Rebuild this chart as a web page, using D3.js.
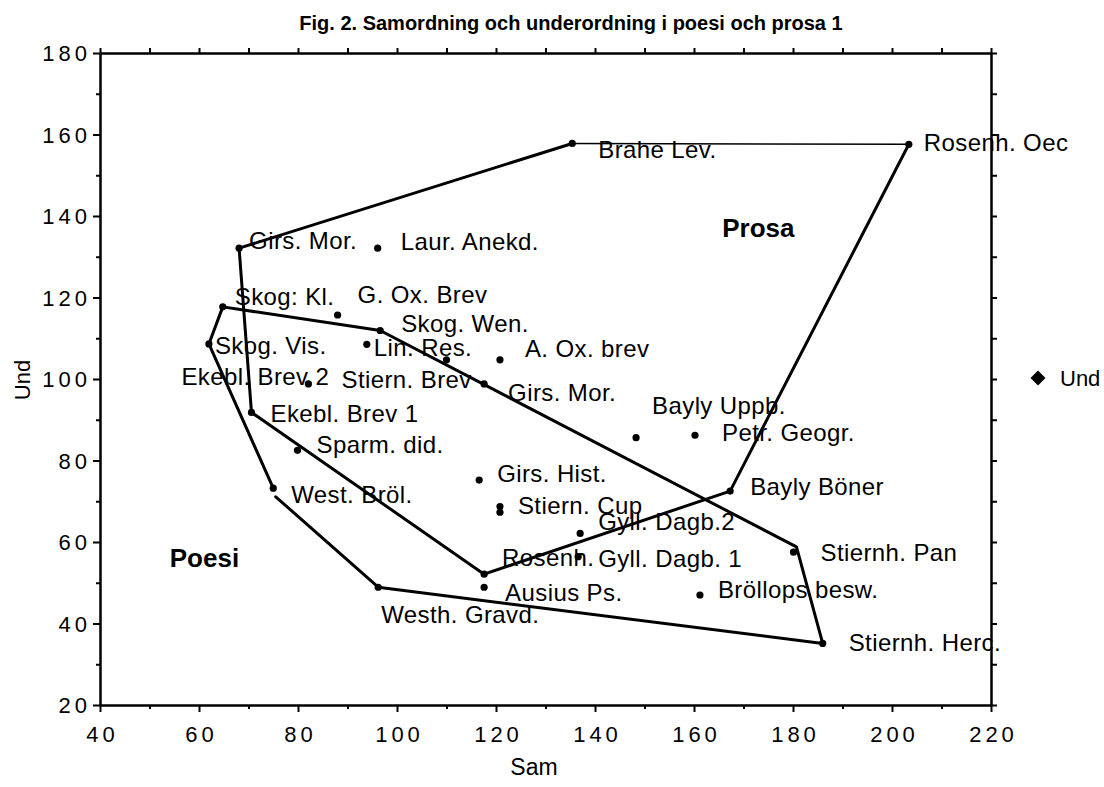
<!DOCTYPE html>
<html><head><meta charset="utf-8">
<script src="https://cdn.jsdelivr.net/npm/d3@7"></script>
<style>
body{margin:0;background:#fff}
svg{display:block}
text{font-family:"Liberation Sans",Arial,Helvetica,sans-serif;fill:#000}
</style>
</head><body>
<svg id="c" width="1104" height="787"></svg>
<script>
// ---- data ----
const titleText = "Fig. 2. Samordning och underordning i poesi och prosa 1";
const xLabel = "Sam";
const yLabel = "Und";
const seriesName = "Und";
const xTicks = [40, 60, 80, 100, 120, 140, 160, 180, 200, 220];
const yTicks = [20, 40, 60, 80, 100, 120, 140, 160, 180];
const xMinor = [50, 70, 90, 110, 130, 150, 170, 190, 210];
const yMinor = [30, 50, 70, 90, 110, 130, 150, 170];

const names = ["Girs. Mor.", "Laur. Anekd.", "Skog: Kl.", "G. Ox. Brev", "Skog. Wen.", "Skog. Vis.",
  "Lin. Res.", "Stiern. Brev", "A. Ox. brev", "Ekebl. Brev 2", "Girs. Mor.", "Ekebl. Brev 1",
  "Sparm. did.", "Bayly Uppb.", "Petr. Geogr.", "West. Bröl.", "Girs. Hist.", "Bayly Böner",
  "Stiern. Cup", "", "Gyll. Dagb.2", "Gyll. Dagb. 1", "Stiernh. Pan", "Rosenh.", "Ausius Ps.",
  "Westh. Gravd.", "Bröllops besw.", "Stiernh. Herc.", "Brahe Lev.", "Rosenh. Oec"];
const samValues = [68.1, 96.1, 64.8, 88.0, 96.6, 62.0, 93.9, 110.0, 120.8, 82.1, 117.6, 70.6,
  79.9, 148.3, 160.2, 75.0, 116.6, 167.3, 120.8, 120.8, 137.0, 136.6, 180.1, 117.6, 117.6,
  96.2, 161.2, 186.0, 135.4, 203.4];
const undValues = [132.1, 132.1, 117.7, 115.7, 111.9, 108.6, 108.5, 104.7, 104.7, 98.8, 98.8, 91.8,
  82.5, 85.6, 86.2, 73.2, 75.2, 72.5, 68.7, 67.3, 62.1, 56.4, 57.5, 52.1, 48.9,
  48.9, 47.0, 35.1, 157.8, 157.6];

// enclosing outlines
const prosaSam = [68.1, 135.4, 203.4, 167.3, 117.6, 70.6, 68.1];
const prosaUnd = [132.1, 157.8, 157.6, 72.5, 52.1, 91.8, 132.1];
const poesiSam = [75.0, 62.0, 64.8, 96.6, 180.7, 186.0, 96.2, 75.5];
const poesiUnd = [73.2, 108.6, 117.7, 111.9, 58.8, 35.1, 48.9, 71.1];
const groupNames = ["Prosa", "Poesi"];
const groupSam = [165.7, 54.1];
const groupUnd = [134.9, 53.9];

// ---- layout (label offsets in px, not data) ----
const labelOffsets = [[10,1],[23,2],[12,-2],[20,-12],[21,1],[6,10],[7,12],[-105,28],[25,-3],[-127,1],
  [24,17],[19,10],[19,3],[16,-24],[27,6],[18,15],[18,2],[20,4],[18,7],[0,0],[18,-3],[20,10],
  [27,9],[18,-8],[21,14],[3,36],[18,3],[26,8],[26,15],[15,7]];

const svg = d3.select("#c");
const x = d3.scaleLinear().domain([40, 220]).range([100, 991]);
const y = d3.scaleLinear().domain([20, 180]).range([705, 53]);
const LS = 4;

// title
svg.append("text").attr("x", 571).attr("y", 30).attr("text-anchor", "middle")
  .style("font-size", "20px").style("font-weight", "bold").text(titleText);

function styleAxis(g) {
  g.select(".domain").attr("stroke", "#000").attr("stroke-width", 2.5);
  g.selectAll(".tick line").attr("stroke", "#000").attr("stroke-width", 2);
}

// bottom axis
const gB = svg.append("g").attr("transform", "translate(0,705)");
gB.call(d3.axisBottom(x).tickValues(xTicks).tickSize(7).tickSizeOuter(0).tickPadding(14).tickFormat(d3.format("d")));
gB.append("g").call(d3.axisBottom(x).tickValues(xMinor).tickSize(4).tickFormat("")).select(".domain").remove();
styleAxis(gB);
gB.selectAll("text").style("font-size", "22px").style("letter-spacing", LS + "px").attr("dx", LS / 2).attr("fill", "#000");

// left axis
const gL = svg.append("g").attr("transform", "translate(100,0)");
gL.call(d3.axisLeft(y).tickValues(yTicks).tickSize(7).tickSizeOuter(0).tickPadding(2).tickFormat(d3.format("d")));
gL.append("g").call(d3.axisLeft(y).tickValues(yMinor).tickSize(4).tickFormat("")).select(".domain").remove();
styleAxis(gL);
gL.selectAll("text").style("font-size", "22px").style("letter-spacing", LS + "px").attr("fill", "#000").attr("dy", "0.36em");

// top axis
const gT = svg.append("g").attr("transform", "translate(0,53)");
gT.call(d3.axisTop(x).tickValues(xTicks.concat(xMinor)).tickSize(5).tickSizeOuter(0).tickFormat(""));
styleAxis(gT);

// right axis
const gR = svg.append("g").attr("transform", "translate(991,0)");
gR.call(d3.axisRight(y).tickValues(yTicks.concat(yMinor)).tickSize(6).tickSizeOuter(0).tickFormat(""));
styleAxis(gR);

// axis titles
svg.append("text").attr("x", 534).attr("y", 775).attr("text-anchor", "middle")
  .style("font-size", "23px").text(xLabel);
svg.append("text").attr("transform", "translate(30,380) rotate(-90)").attr("text-anchor", "middle")
  .style("font-size", "22px").text(yLabel);

// outlines
const line = d3.line().x(d => x(d[0])).y(d => y(d[1]));
const prosaPts = prosaSam.map((s, i) => [s, prosaUnd[i]]);
const poesiPts = poesiSam.map((s, i) => [s, poesiUnd[i]]);
const lineG = svg.append("g").attr("fill", "none").attr("stroke", "#000")
  .attr("stroke-linejoin", "round").attr("stroke-linecap", "round");
prosaPts.slice(0, -1).forEach((p, i) => {
  lineG.append("path").attr("d", line([p, prosaPts[i + 1]]))
    .attr("stroke-width", i === 1 ? 1.5 : 3);
});
lineG.append("path").attr("d", line(poesiPts)).attr("stroke-width", 3);

// points
svg.append("g").selectAll("circle").data(names).join("circle")
  .attr("cx", (d, i) => x(samValues[i])).attr("cy", (d, i) => y(undValues[i]))
  .attr("r", 3.6).attr("fill", "#000");

// labels
svg.append("g").selectAll("text").data(names).join("text")
  .attr("x", (d, i) => x(samValues[i]) + labelOffsets[i][0])
  .attr("y", (d, i) => y(undValues[i]) + labelOffsets[i][1])
  .style("font-size", "24px").style("letter-spacing", "0.4px").text(d => d);

// group labels
svg.append("g").selectAll("text").data(groupNames).join("text")
  .attr("x", (d, i) => x(groupSam[i])).attr("y", (d, i) => y(groupUnd[i]))
  .style("font-size", "26px").style("font-weight", "bold").text(d => d);

// legend
svg.append("path").attr("d", d3.symbol(d3.symbolSquare, 112)())
  .attr("transform", "translate(1038,378) rotate(45)").attr("fill", "#000");
svg.append("text").attr("x", 1060).attr("y", 386).style("font-size", "22px").text(seriesName);
</script>
</body></html>
